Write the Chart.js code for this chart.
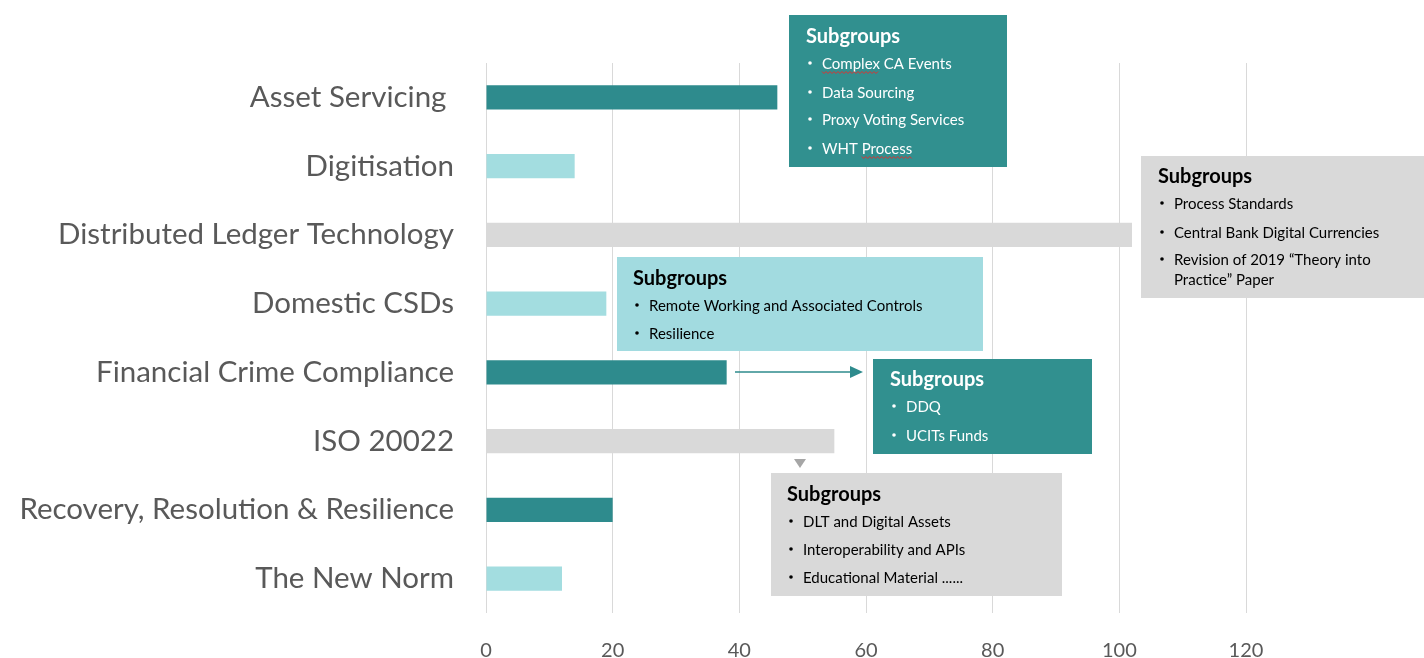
<!DOCTYPE html>
<html>
<head>
<meta charset="utf-8">
<script src="https://cdn.jsdelivr.net/npm/chart.js@4"></script>
<style>
  html, body { margin: 0; padding: 0; background: #ffffff; overflow: hidden; }
  canvas { display: block; }
</style>
</head>
<body>
<canvas id="chart-bar" width="1424" height="658"></canvas>
<script>
/* =====================
  Data
===================== */
var categories = ['Asset Servicing ', 'Digitisation', 'Distributed Ledger Technology', 'Domestic CSDs',
  'Financial Crime Compliance', 'ISO 20022', 'Recovery, Resolution & Resilience', 'The New Norm'];
var values = [46, 14, 102, 19, 38, 55, 20, 12];
var barKinds = ['dark', 'light', 'grey', 'light', 'dark', 'grey', 'dark', 'light'];
var tickValues = [0, 20, 40, 60, 80, 100, 120];

// callout text
var subTitle = 'Subgroups';
var assetItems = ['Complex CA Events', 'Data Sourcing', 'Proxy Voting Services', 'WHT Process'];
var dltItems = ['Process Standards', 'Central Bank Digital Currencies', 'Revision of 2019 \u201cTheory into', 'Practice\u201d Paper'];
var csdItems = ['Remote Working and Associated Controls', 'Resilience'];
var fccItems = ['DDQ', 'UCITs Funds'];
var isoItems = ['DLT and Digital Assets', 'Interoperability and APIs', 'Educational Material ......'];

var colors = { dark: '#2e8b8d', light: '#a3dde0', grey: '#d9d9d9' };
var FONT = 'Lato, "Open Sans", sans-serif';

// callout boxes (pixel layout)
var callouts = [
  { x: 789, y: 15, w: 218, h: 152, bg: '#31908f', fg: '#ffffff', items: assetItems,
    titleY: 37, itemY: [64, 93, 120, 149], pad: 17, squiggle: [0, 3] },
  { x: 1141, y: 156, w: 283, h: 142, bg: '#d9d9d9', fg: '#000000', items: dltItems,
    titleY: 177, itemY: [204, 233, 260, 280], pad: 17, noBullet: [3] },
  { x: 617, y: 257, w: 366, h: 94, bg: '#a2dbe0', fg: '#000000', items: csdItems,
    titleY: 279, itemY: [306, 334], pad: 16 },
  { x: 873, y: 359, w: 219, h: 95, bg: '#31908f', fg: '#ffffff', items: fccItems,
    titleY: 380, itemY: [407, 436], pad: 17 },
  { x: 771, y: 473, w: 291, h: 123, bg: '#d9d9d9', fg: '#000000', items: isoItems,
    titleY: 495, itemY: [522, 550, 578], pad: 16 }
];

var squiggle = function(ctx, x1, x2, y) {
  ctx.save();
  ctx.strokeStyle = '#e03030';
  ctx.lineWidth = 1;
  ctx.beginPath();
  for (var x = x1, i = 0; x <= x2; x += 2, i++) {
    var yy = y + (i % 2 ? 1.5 : -0.5);
    if (i === 0) ctx.moveTo(x, yy); else ctx.lineTo(x, yy);
  }
  ctx.stroke();
  ctx.restore();
};

var calloutPlugin = {
  id: 'callouts',
  afterDatasetsDraw: function(chart) {
    var ctx = chart.ctx;
    ctx.save();
    // arrow from Financial Crime Compliance bar to its box
    ctx.strokeStyle = '#2e8b8d';
    ctx.fillStyle = '#2e8b8d';
    ctx.lineWidth = 1.5;
    ctx.beginPath();
    ctx.moveTo(735, 372);
    ctx.lineTo(852, 372);
    ctx.stroke();
    ctx.beginPath();
    ctx.moveTo(863, 372);
    ctx.lineTo(850, 366);
    ctx.lineTo(850, 378);
    ctx.closePath();
    ctx.fill();
    // small down triangle under ISO 20022 bar
    ctx.fillStyle = '#a6a6a6';
    ctx.beginPath();
    ctx.moveTo(794, 459);
    ctx.lineTo(806, 459);
    ctx.lineTo(800, 468);
    ctx.closePath();
    ctx.fill();

    callouts.forEach(function(c) {
      ctx.fillStyle = c.bg;
      ctx.fillRect(c.x, c.y, c.w, c.h);
      ctx.fillStyle = c.fg;
      ctx.textBaseline = 'middle';
      ctx.textAlign = 'left';
      ctx.font = 'bold 20px ' + FONT;
      ctx.fillText(subTitle, c.x + c.pad, c.titleY);
      ctx.font = '15px ' + FONT;
      c.items.forEach(function(t, i) {
        var y = c.itemY[i];
        if (!(c.noBullet && c.noBullet.indexOf(i) >= 0)) {
          ctx.beginPath();
          ctx.arc(c.x + c.pad + 4, y - 1, 1.8, 0, Math.PI * 2);
          ctx.fill();
        }
        ctx.fillText(t, c.x + c.pad + 16, y);
        if (c.squiggle && c.squiggle.indexOf(i) >= 0) {
          var word = t.split(' ')[i === 0 ? 0 : 1];
          var off = i === 0 ? 0 : ctx.measureText(t.split(' ')[0] + ' ').width;
          var wx = c.x + c.pad + 16 + off;
          squiggle(ctx, wx, wx + ctx.measureText(word).width, y + 8);
        }
      });
    });
    ctx.restore();
  }
};

var ctx1 = document.getElementById('chart-bar').getContext('2d');
var bar_chart = new Chart(ctx1, {
  type: 'bar',
  data: {
    labels: categories,
    datasets: [{
      data: values,
      backgroundColor: barKinds.map(function(k) { return colors[k]; }),
      barPercentage: 0.35,
      categoryPercentage: 1.0
    }]
  },
  options: {
    indexAxis: 'y',
    responsive: false,
    animation: false,
    layout: { padding: { left: 0, right: 178, top: 63, bottom: 0 } },
    plugins: { legend: { display: false }, tooltip: { enabled: false } },
    scales: {
      x: {
        min: 0,
        max: 120,
        afterBuildTicks: function(scale) {
          scale.ticks = tickValues.map(function(v) { return { value: v }; });
        },
        afterFit: function(scale) { scale.height = 45; },
        grid: { color: '#d9d9d9', lineWidth: 1, drawTicks: false },
        border: { display: false },
        ticks: { color: '#595959', padding: 26, font: { family: FONT, size: 20 } }
      },
      y: {
        afterFit: function(scale) { scale.width = 486; },
        grid: { display: false },
        border: { display: false },
        ticks: { color: '#595959', padding: 24, font: { family: FONT, size: 29.5 } }
      }
    }
  },
  plugins: [calloutPlugin]
});
</script>
</body>
</html>
